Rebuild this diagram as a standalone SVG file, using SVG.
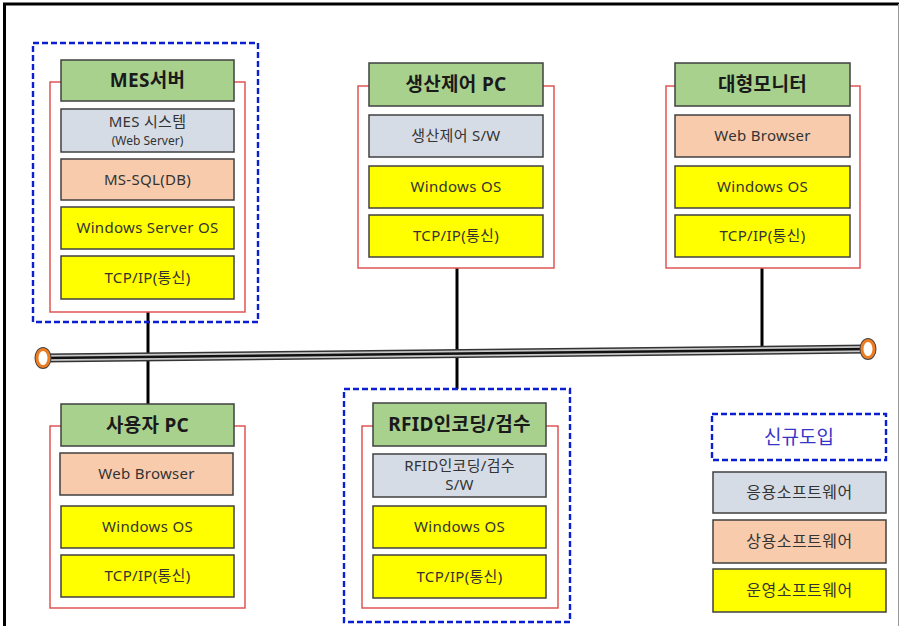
<svg xmlns="http://www.w3.org/2000/svg" width="900" height="626" viewBox="0 0 900 626">
<style>
text{font-family:"Noto Sans","Noto Sans CJK KR",sans-serif;text-anchor:middle}
.hd{fill:#a9d18e;stroke:#404040;stroke-width:1.5}
.app{fill:#d6dce5;stroke:#404040;stroke-width:1.5}
.com{fill:#f8cbad;stroke:#404040;stroke-width:1.5}
.os{fill:#ffff00;stroke:#404040;stroke-width:1.5}
.red{fill:none;stroke:#e05555;stroke-width:1.5}
.new{fill:none;stroke:#0a1fd0;stroke-width:2.4;stroke-dasharray:6 3}
.ht{font-size:19px;font-weight:bold;fill:#1a1a1a;letter-spacing:0.3px}
.lt{font-size:15px;fill:#333;letter-spacing:0.3px}
.st{font-size:12px;fill:#333}
.lg{font-size:16px;fill:#333;letter-spacing:0.5px}
.conn{stroke:#000;stroke-width:3;fill:none}
</style>
<rect x="0" y="0" width="900" height="626" fill="#fff"/>
<path d="M4.5 640 V4 H899" fill="none" stroke="#000" stroke-width="3"/>
<line x1="898.5" y1="4" x2="898.5" y2="626" stroke="#999" stroke-width="1"/>

<g id="connectors">
<line class="conn" x1="148" y1="312" x2="148" y2="404"/>
<line class="conn" x1="457" y1="268" x2="457" y2="389"/>
<line class="conn" x1="762" y1="268" x2="762" y2="350"/>
<g id="bus">
<line x1="43" y1="358" x2="868" y2="349" stroke="#333" stroke-width="9"/>
<line x1="43" y1="358" x2="868" y2="349" stroke="#c8c8c8" stroke-width="6"/>
<line x1="43" y1="358" x2="868" y2="349" stroke="#111" stroke-width="2.5"/>
<ellipse cx="43" cy="358" rx="6" ry="8.5" fill="#fff" stroke="#444" stroke-width="5"/>
<ellipse cx="43" cy="358" rx="6" ry="8.5" fill="#fff" stroke="#ee7d22" stroke-width="3"/>
<ellipse cx="868" cy="349" rx="6" ry="8.5" fill="#fff" stroke="#444" stroke-width="5"/>
<ellipse cx="868" cy="349" rx="6" ry="8.5" fill="#fff" stroke="#ee7d22" stroke-width="3"/>
</g>
</g>

<g id="mes-server">
<rect class="new" x="33" y="43" width="225" height="279"/>
<rect class="red" x="50" y="82" width="195" height="230"/>
<rect class="hd" x="61" y="60" width="173" height="41"/>
<text class="ht" x="147.5" y="87">MES서버</text>
<rect class="app" x="61" y="109" width="173" height="43"/>
<text class="lt" x="147.5" y="127">MES 시스템</text>
<text class="st" x="147.5" y="145">(Web Server)</text>
<rect class="com" x="61" y="159" width="173" height="41"/>
<text class="lt" x="147.5" y="185">MS-SQL(DB)</text>
<rect class="os" x="61" y="207" width="173" height="42"/>
<text class="lt" x="147.5" y="233">Windows Server OS</text>
<rect class="os" x="61" y="256" width="173" height="43"/>
<text class="lt" x="147.5" y="283">TCP/IP(통신)</text>
</g>

<g id="user-pc">
<rect class="red" x="50" y="426" width="195" height="182"/>
<rect class="hd" x="61" y="404" width="173" height="42"/>
<text class="ht" x="147.5" y="432">사용자 PC</text>
<rect class="com" x="60" y="453" width="173" height="42"/>
<text class="lt" x="146.5" y="479">Web Browser</text>
<rect class="os" x="61" y="506" width="173" height="42"/>
<text class="lt" x="147.5" y="532">Windows OS</text>
<rect class="os" x="61" y="555" width="173" height="42"/>
<text class="lt" x="147.5" y="581">TCP/IP(통신)</text>
</g>

<g id="production-pc">
<rect class="red" x="358" y="86" width="196" height="182"/>
<rect class="hd" x="369" y="63" width="174" height="43"/>
<text class="ht" x="456" y="91">생산제어 PC</text>
<rect class="app" x="369" y="115" width="174" height="42"/>
<text class="lt" x="456" y="141">생산제어 S/W</text>
<rect class="os" x="369" y="166" width="174" height="42"/>
<text class="lt" x="456" y="192">Windows OS</text>
<rect class="os" x="369" y="215" width="174" height="42"/>
<text class="lt" x="456" y="241">TCP/IP(통신)</text>
</g>

<g id="large-monitor">
<rect class="red" x="666" y="86" width="194" height="182"/>
<rect class="hd" x="675" y="63" width="175" height="43"/>
<text class="ht" x="762.5" y="91">대형모니터</text>
<rect class="com" x="675" y="115" width="175" height="42"/>
<text class="lt" x="762.5" y="141">Web Browser</text>
<rect class="os" x="675" y="166" width="175" height="42"/>
<text class="lt" x="762.5" y="192">Windows OS</text>
<rect class="os" x="675" y="215" width="175" height="42"/>
<text class="lt" x="762.5" y="241">TCP/IP(통신)</text>
</g>

<g id="rfid">
<rect class="new" x="344" y="389" width="226" height="233"/>
<rect class="red" x="362" y="426" width="196" height="182"/>
<rect class="hd" x="373" y="403" width="173" height="43"/>
<text class="ht" x="459.5" y="431">RFID인코딩/검수</text>
<rect class="app" x="373" y="454" width="173" height="43"/>
<text class="lt" x="459.5" y="471">RFID인코딩/검수</text>
<text class="lt" x="459.5" y="490">S/W</text>
<rect class="os" x="373" y="506" width="173" height="42"/>
<text class="lt" x="459.5" y="532">Windows OS</text>
<rect class="os" x="373" y="555" width="173" height="43"/>
<text class="lt" x="459.5" y="582">TCP/IP(통신)</text>
</g>

<g id="legend">
<rect class="new" x="712" y="414" width="174" height="46"/>
<text x="799" y="444" style="font-size:19px;fill:#3535c8">신규도입</text>
<rect class="app" x="713" y="472" width="173" height="41"/>
<text class="lg" x="799.5" y="498">응용소프트웨어</text>
<rect class="com" x="713" y="520" width="173" height="43"/>
<text class="lg" x="799.5" y="547">상용소프트웨어</text>
<rect class="os" x="713" y="569" width="173" height="43"/>
<text class="lg" x="799.5" y="596">운영소프트웨어</text>
</g>
</svg>
